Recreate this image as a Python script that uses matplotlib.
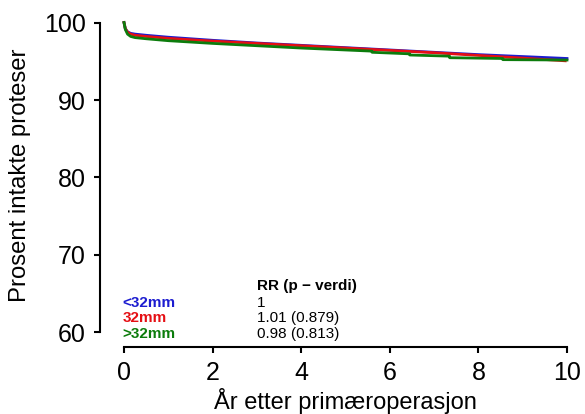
import matplotlib
matplotlib.use("Agg")
import matplotlib.pyplot as plt

years_lt32 = [0, 0.03, 0.08, 0.15, 0.25, 0.5, 1, 2, 3, 4, 5, 6, 7, 8, 9, 10]
surv_lt32 = [100, 99.2, 98.8, 98.6, 98.5, 98.35, 98.1, 97.7, 97.35, 97.05, 96.75, 96.45, 96.15, 95.85, 95.6, 95.35]
years_32 = [0, 0.03, 0.08, 0.15, 0.25, 0.5, 1, 2, 3, 4, 5, 6, 7, 8, 9, 9.96]
surv_32 = [100, 99.2, 98.75, 98.5, 98.35, 98.2, 97.95, 97.6, 97.3, 97.0, 96.7, 96.4, 96.1, 95.75, 95.4, 95.05]
years_gt32 = [0, 0.03, 0.08, 0.15, 0.25, 0.5, 1, 2, 3, 4, 5, 5.6, 5.6, 6.45, 6.45, 7.35, 7.35, 8.55, 8.55, 10]
surv_gt32 = [100, 99.1, 98.5, 98.2, 98.05, 97.9, 97.65, 97.3, 97.0, 96.7, 96.45, 96.3, 96.15, 95.95, 95.8, 95.65, 95.45, 95.35, 95.2, 95.15]

groups = ["<32mm", "32mm", ">32mm"]
rr_header = "RR (p \u2212 verdi)"
rr_text = ["1", "1.01 (0.879)", "0.98 (0.813)"]
colors = ["#1c1cd0", "#e50f14", "#0c7c0c"]
xticks = [0, 2, 4, 6, 8, 10]
yticks = [60, 70, 80, 90, 100]

plt.rcParams['font.family'] = ['Liberation Sans', 'DejaVu Sans']

W, H = 585, 414
fig = plt.figure(figsize=(W/100, 4.142), dpi=100)
x0, x1 = 124, 567
y0, y1 = 22.7, 332
ax = fig.add_axes([x0/W, 1 - y1/H, (x1-x0)/W, (y1-y0)/H])
ax.set_xlim(0, 10)
ax.set_ylim(60, 100)

for t, s, c in zip([years_lt32, years_32, years_gt32], [surv_lt32, surv_32, surv_gt32], colors):
    ax.plot(t, s, color=c, lw=2.0, clip_on=False, solid_joinstyle='round')

for sp in ['top', 'right']:
    ax.spines[sp].set_visible(False)
ax.spines['left'].set_position(('outward', 17.3))
ax.spines['bottom'].set_position(('outward', 10.8))
ax.spines['left'].set_bounds(60, 100)
ax.spines['bottom'].set_bounds(0, 10)
for sp in ['left', 'bottom']:
    ax.spines[sp].set_linewidth(1.5)
    ax.spines[sp].set_color('black')
ax.set_xticks(xticks)
ax.set_yticks(yticks)
ax.tick_params(axis='both', length=4, width=1.5, labelsize=18, color='black', pad=6)

fig.text(345.5/W, 1 - 408.5/H, "År etter primæroperasjon", fontsize=17, ha='center', va='baseline')
fig.text(20.5/W, 1 - 175.5/H, "Prosent intakte proteser", fontsize=17.2, ha='center', va='center', rotation=90)

ax.text(3.0, 65.43, rr_header, fontsize=11, fontweight='bold', ha='left', va='baseline')
rows_y = [63.27, 61.25, 59.26]
for g, r, c, yy in zip(groups, rr_text, colors, rows_y):
    ax.text(-0.03, yy, g, color=c, fontsize=11, fontweight='bold', ha='left', va='baseline')
    ax.text(3.0, yy, r, color='black', fontsize=11, ha='left', va='baseline')

fig.savefig("out.png", dpi=100)
